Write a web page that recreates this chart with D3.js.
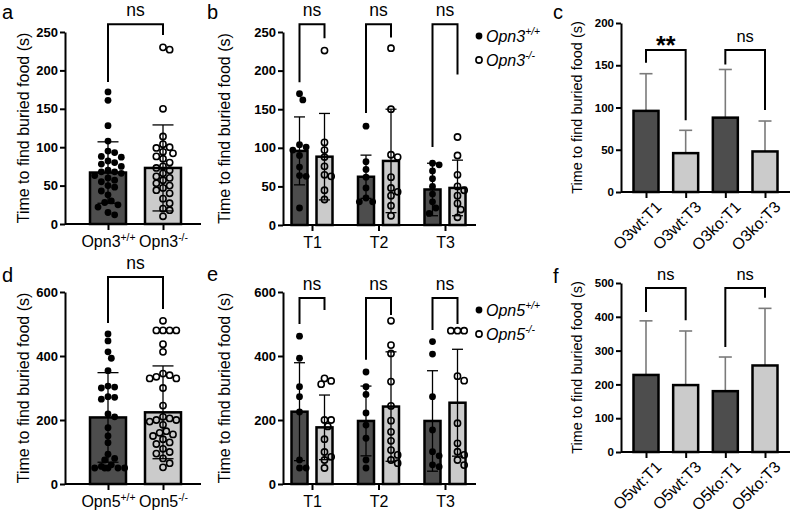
<!DOCTYPE html>
<html>
<head>
<meta charset="utf-8">
<title>Buried food test</title>
<style>
  body { margin: 0; background: #fff; }
  text { font-family: Arial, "Liberation Sans", sans-serif; }
</style>
</head>
<body>
<svg width="792" height="513"></svg>
<script src="https://d3js.org/d3.v7.min.js"></script>
<script>
// ---- data ----
const genoA = ["Opn3+/+", "Opn3-/-"];
const dotsA_wt = [172, 161, 128, 108, 95, 93, 88, 87, 82, 80, 78, 75, 70, 68, 68, 66, 63, 60, 57, 55, 50, 48, 43, 38, 30, 28, 25, 22, 15, 12];
const dotsA_ko = [230, 227, 150, 114, 104, 100, 99, 94, 92, 88, 85, 80, 75, 73, 70, 66, 62, 60, 57, 53, 50, 47, 44, 40, 33, 27, 20, 18, 10];
const meanA = [67, 73];
const sdA = [40, 56];

const trials = ["T1", "T2", "T3"];
const dotsB_wt = [
  [170, 162, 104, 101, 97, 90, 75, 64, 63, 22],
  [128, 82, 72, 62, 48, 35, 30, 30],
  [80, 78, 70, 60, 50, 40, 30, 22, 15]
];
const dotsB_ko = [
  [226, 107, 97, 88, 76, 65, 63, 45, 33],
  [229, 150, 91, 88, 62, 48, 43, 38, 25, 12],
  [114, 90, 65, 50, 45, 38, 28, 20, 10]
];
const meanB_wt = [96, 62.5, 46];
const sdB_wt = [44, 28, 34];
const meanB_ko = [88.5, 83, 48];
const sdB_ko = [56, 67, 36];

const groupsC = ["O3wt:T1", "O3wt:T3", "O3ko:T1", "O3ko:T3"];
const meanC = [96, 46, 88, 48];
const sdC = [44, 27, 57, 36];

const genoD = ["Opn5+/+", "Opn5-/-"];
const dotsD_wt = [469, 447, 413, 393, 354, 306, 303, 300, 273, 271, 265, 219, 210, 176, 150, 129, 93, 80, 75, 60, 55, 50, 50, 50, 50, 50];
const dotsD_ko = [510, 480, 480, 480, 480, 437, 413, 345, 340, 335, 330, 330, 300, 245, 210, 205, 200, 200, 195, 185, 165, 160, 155, 150, 140, 130, 125, 110, 100, 95, 80, 65, 52];
const meanD = [208, 224];
const sdD = [140, 145];

const dotsE_wt = [
  [462, 393, 304, 273, 225, 75, 50, 50],
  [350, 304, 280, 222, 184, 143, 75, 50],
  [445, 406, 273, 169, 101, 88, 60, 54]
];
const dotsE_ko = [
  [330, 322, 312, 200, 200, 180, 140, 100, 85, 75, 50],
  [510, 434, 408, 320, 244, 198, 163, 135, 106, 91, 75, 65],
  [479, 479, 479, 337, 323, 190, 127, 101, 91, 75, 59]
];
const meanE_wt = [226, 197, 197];
const sdE_wt = [153, 109, 157];
const meanE_ko = [177, 242, 254];
const sdE_ko = [101, 171, 167];

const groupsF = ["O5wt:T1", "O5wt:T3", "O5ko:T1", "O5ko:T3"];
const meanF = [228, 198, 180, 256];
const sdF = [160, 160, 101, 169];

// significance brackets: [from, to, top, leftLeg, rightLeg, label]
const brA = [[0, 1, 260, 185, 246, "ns"]];
const brB = [[0, 0, 260, 185, 242, "ns"], [1, 1, 260, 145, 243, "ns"], [2, 2, 260, 101, 195, "ns"]];
const brC = [[0, 1, 168, 153, 85, "**"], [2, 3, 168, 151, 97, "ns"]];
const brD = [[0, 1, 647, 503, 547, "ns"]];
const brE = [[0, 0, 581, 500, 544, "ns"], [1, 1, 581, 388, 528, "ns"], [2, 2, 581, 481, 500, "ns"]];
const brF = [[0, 1, 485, 414, 390, "ns"], [2, 3, 485, 311, 456, "ns"]];

// ---- drawing ----
const svg = d3.select("svg");
svg.append("rect").attr("width", 792).attr("height", 513).attr("fill", "#fff");

const DARK = "#4d4d4d", LIGHT = "#cbcbcb";

function yAxis(y, ticks, x0, fs, title, titleX, titleFs) {
  const g = svg.append("g").attr("transform", `translate(${x0},0)`)
    .call(d3.axisLeft(y).tickValues(ticks).tickSize(5).tickSizeOuter(0).tickPadding(2));
  g.select(".domain").attr("stroke-width", 2);
  g.selectAll(".tick line").attr("stroke-width", 2);
  g.selectAll(".tick text").attr("font-size", fs).attr("font-weight", "bold")
    .attr("font-family", "Arial, 'Liberation Sans', sans-serif").attr("fill", "#000");
  const r = y.range();
  svg.append("text").attr("transform", `translate(${titleX},${(r[0] + r[1]) / 2}) rotate(-90)`)
    .attr("text-anchor", "middle").attr("dy", "0.35em").attr("font-size", titleFs).text(title);
}

function xLine(x0, x1, y0) {
  svg.append("line").attr("x1", x0).attr("x2", x1).attr("y1", y0).attr("y2", y0)
    .attr("stroke", "#000").attr("stroke-width", 2);
}

function supLabel(sel, label, fs) {
  // "Opn3+/+" -> Opn3 with superscript
  const base = label.slice(0, 4), sup = label.slice(4);
  sel.text(null);
  sel.append("tspan").attr("font-size", fs).text(base);
  sel.append("tspan").attr("font-size", fs * 0.65).attr("dy", -fs * 0.4).text(sup);
}

function xTicks(scale, y0, labels, fs, mode) {
  const g = svg.append("g").attr("transform", `translate(0,${y0})`)
    .call(d3.axisBottom(scale).tickSize(6).tickPadding(mode === "rot" ? 4 : 6));
  g.select(".domain").remove();
  g.selectAll(".tick line").attr("stroke-width", 2);
  const t = g.selectAll(".tick text").attr("fill", "#000")
    .attr("font-family", "Arial, 'Liberation Sans', sans-serif").attr("font-size", fs);
  if (mode === "sup") t.each(function (d) { supLabel(d3.select(this), d, fs); });
  if (mode === "rot") t.attr("text-anchor", "end").attr("dy", "0.35em")
    .attr("transform", "translate(5,5) rotate(-45)");
}

function swarm(values, y, cx, r, maxOff) {
  const pts = values.map(v => ({ v, py: y(v) })).sort((a, b) => a.py - b.py);
  const placed = [];
  const step = r * 0.95;
  pts.forEach(p => {
    let best = null, bestD = -1;
    for (let k = 0; k < 40; k++) {
      const off = k === 0 ? 0 : (k % 2 ? 1 : -1) * Math.ceil(k / 2) * step;
      if (Math.abs(off) > maxOff) break;
      let dmin = Infinity;
      placed.forEach(q => { dmin = Math.min(dmin, Math.hypot(q.px - (cx + off), q.py - p.py)); });
      if (dmin >= 2 * r * 0.92) { best = off; bestD = Infinity; break; }
      if (dmin > bestD) { bestD = dmin; best = off; }
    }
    p.px = cx + best;
    placed.push(p);
  });
  return placed;
}

function bar(cx, w, mean, y, fill) {
  svg.append("rect").attr("x", cx - w / 2).attr("y", y(mean)).attr("width", w)
    .attr("height", y(0) - y(mean)).attr("fill", fill).attr("stroke", "#000").attr("stroke-width", 2.5);
}

function errBar(cx, cap, mean, sd, y, both, color) {
  const lo = both ? mean - sd : mean, hi = mean + sd;
  const g = svg.append("g").attr("stroke", color).attr("stroke-width", both ? 1.3 : 1.6);
  g.append("line").attr("x1", cx).attr("x2", cx).attr("y1", y(lo)).attr("y2", y(hi));
  g.append("line").attr("x1", cx - cap / 2).attr("x2", cx + cap / 2).attr("y1", y(hi)).attr("y2", y(hi));
  if (both) g.append("line").attr("x1", cx - cap / 2).attr("x2", cx + cap / 2).attr("y1", y(lo)).attr("y2", y(lo));
}

function dots(values, y, cx, maxOff, open) {
  const r = 3.4;
  const pts = swarm(values, y, cx, r + 0.1, maxOff);
  svg.append("g").selectAll("circle").data(pts).join("circle")
    .attr("cx", d => d.px).attr("cy", d => d.py).attr("r", open ? 3.1 : r)
    .attr("fill", open ? "none" : "#000").attr("stroke", "#000").attr("stroke-width", open ? 1.6 : 0);
}

function bracket(x1, x2, y, b, fs, bold) {
  svg.append("path")
    .attr("d", `M${x1},${y(b[3])}V${y(b[2])}H${x2}V${y(b[4])}`)
    .attr("fill", "none").attr("stroke", "#000").attr("stroke-width", 2);
  svg.append("text").attr("x", (x1 + x2) / 2).attr("y", y(b[2]) + (bold ? 4 : -8))
    .attr("text-anchor", "middle").attr("font-size", fs).attr("font-weight", bold ? "bold" : "normal")
    .text(b[5]);
}

function letter(x, y, s) {
  svg.append("text").attr("x", x).attr("y", y).attr("font-size", 20).text(s);
}

function legend(x, y, gene) {
  [["+/+", false], ["-/-", true]].forEach(([sup, open], i) => {
    const yy = y + i * 24;
    svg.append("circle").attr("cx", x).attr("cy", yy).attr("r", open ? 3.1 : 3.4)
      .attr("fill", open ? "none" : "#000").attr("stroke", "#000").attr("stroke-width", open ? 1.6 : 0);
    const t = svg.append("text").attr("x", x + 7).attr("y", yy + 5.5).attr("font-style", "italic");
    supLabel(t, gene + sup, 16);
  });
}

const TITLE = "Time to find buried food (s)";

// ---- panel a / d : two genotypes ----
function panelGeno(geno, wt, ko, means, sds, br, yDom, yRange, ticks) {
  const y = d3.scaleLinear().domain(yDom).range(yRange);
  const x = d3.scalePoint().domain(geno).range([108, 163]);
  const y0 = yRange[0];
  [wt, ko].forEach((vals, i) => {
    const cx = x(geno[i]);
    bar(cx, 36, means[i], y, i ? LIGHT : DARK);
    dots(vals, y, cx, 17, i === 1);
    errBar(cx, 21, means[i], sds[i], y, true, "#000");
  });
  xLine(65, 201, y0);
  yAxis(y, ticks, 65, 13, TITLE, 23, 16);
  xTicks(x, y0, geno, 16, "sup");
  br.forEach(b => bracket(x(geno[b[0]]), x(geno[b[1]]), y, b, 17.5, false));
}

// ---- panel b / e : trials x genotype ----
function panelTrials(wt, ko, mw, sw, mk, sk, br, yDom, yRange, ticks) {
  const y = d3.scaleLinear().domain(yDom).range(yRange);
  const x = d3.scalePoint().domain(trials).range([312, 445]);
  const y0 = yRange[0];
  trials.forEach((t, j) => {
    const cw = x(t) - 12.5, ck = x(t) + 12.5;
    bar(cw, 16, mw[j], y, DARK);
    bar(ck, 16, mk[j], y, LIGHT);
    dots(wt[j], y, cw, 8, false);
    dots(ko[j], y, ck, 8, true);
    errBar(cw, 11, mw[j], sw[j], y, true, "#000");
    errBar(ck, 11, mk[j], sk[j], y, true, "#000");
  });
  xLine(283, 476, y0);
  yAxis(y, ticks, 283, 13, TITLE, 224, 16);
  xTicks(x, y0, trials, 16, "plain");
  br.forEach(b => bracket(x(trials[b[0]]) - 12.5, x(trials[b[1]]) + 12.5, y, b, 17.5, false));
}

// ---- panel c / f : mean bars with upward SD ----
function panelMeans(groups, means, sds, br, yDom, yRange, ticks) {
  const y = d3.scaleLinear().domain(yDom).range(yRange);
  const x = d3.scalePoint().domain(groups).range([646, 765]);
  const y0 = yRange[0];
  groups.forEach((g, i) => {
    errBar(x(g), 13, means[i], sds[i], y, false, "#7a7a7a");
    bar(x(g), 25, means[i], y, i % 2 ? LIGHT : DARK);
  });
  xLine(621, 790, y0);
  yAxis(y, ticks, 621, 11.5, TITLE, 577, 14.5);
  xTicks(x, y0, groups, 16, "rot");
  br.forEach(b => bracket(x(groups[b[0]]), x(groups[b[1]]), y, b, b[5] === "**" ? 25 : 16.5, b[5] === "**"));
}

panelGeno(genoA, dotsA_wt, dotsA_ko, meanA, sdA, brA, [0, 250], [224, 32], [0, 50, 100, 150, 200, 250]);
panelTrials(dotsB_wt, dotsB_ko, meanB_wt, sdB_wt, meanB_ko, sdB_ko, brB, [0, 250], [225, 32], [0, 50, 100, 150, 200, 250]);
panelMeans(groupsC, meanC, sdC, brC, [0, 200], [192, 23], [0, 50, 100, 150, 200]);
panelGeno(genoD, dotsD_wt, dotsD_ko, meanD, sdD, brD, [0, 600], [484, 292], [0, 200, 400, 600]);
panelTrials(dotsE_wt, dotsE_ko, meanE_wt, sdE_wt, meanE_ko, sdE_ko, brE, [0, 600], [484, 292], [0, 200, 400, 600]);
panelMeans(groupsF, meanF, sdF, brF, [0, 500], [452, 283], [0, 100, 200, 300, 400, 500]);

legend(479, 36, "Opn3");
legend(479, 310, "Opn5");

letter(2, 19, "a");
letter(207, 19, "b");
letter(553, 19, "c");
letter(2, 282, "d");
letter(207, 281, "e");
letter(553, 283, "f");
</script>
</body>
</html>
